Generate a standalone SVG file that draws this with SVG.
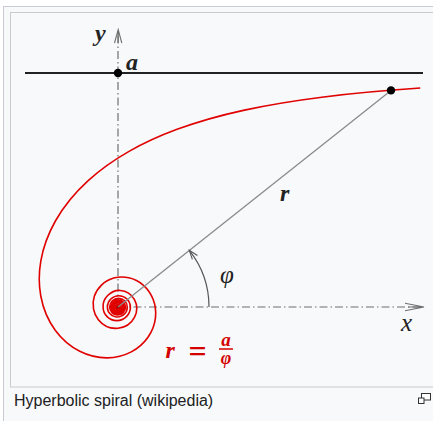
<svg xmlns="http://www.w3.org/2000/svg" width="433" height="421" viewBox="0 0 433 421">
<style>
.frame{fill:#f8f9fa;stroke:#c8ccd1;stroke-width:1}
.axis{fill:none;stroke:#6f6f6f;stroke-width:1.2;stroke-dasharray:8 3 1.5 3}
.arrow{fill:none;stroke:#6f6f6f;stroke-width:1.1;stroke-linejoin:miter}
.math{font-family:"Liberation Serif","DejaVu Serif",serif;font-style:italic;fill:#222}
.red{fill:#d40000;font-weight:bold}
.spiral{fill:none;stroke:#e00000;stroke-width:1.6}
</style>
<defs>
<marker id="arcHead" markerUnits="userSpaceOnUse" markerWidth="14" markerHeight="10" refX="9" refY="0" viewBox="-1 -5 12 10" orient="auto">
<path d="M0,-3.2 L9,0 L0,3.2" fill="none" stroke="#555" stroke-width="1.1"/>
</marker>
</defs>
<rect width="433" height="421" fill="#ffffff"/>
<g id="frame">
<rect class="frame" x="3.5" y="6.5" width="440" height="430"/>
<rect class="frame" x="10.5" y="12.5" width="430" height="374.5"/>
</g>
<g id="axes">
<line class="axis" x1="118" y1="307" x2="118" y2="31"/>
<path class="arrow" d="M114.5,43 L118.2,29.5 L121.8,43 M118.2,31 L118.2,43"/>
<line class="axis" x1="118" y1="307" x2="422" y2="307"/>
<path class="arrow" d="M405,303.3 L424,307 L405,310.7 M408,307 L424,307"/>
</g>
<g id="asymptote">
<line x1="25" y1="73" x2="423" y2="73" stroke="#222" stroke-width="2"/>
</g>
<g id="spiral">
<path class="spiral" d="M420.22,88.03 C379.80,90.74 348.58,93.80 321.79,97.17 C290.82,101.07 265.99,105.40 244.43,110.10 C217.49,115.97 195.77,122.43 177.03,129.35 C158.29,136.27 142.62,143.67 129.04,151.39 C112.74,160.66 99.48,170.41 88.46,180.40 C73.77,193.72 63.07,207.44 55.40,221.00 C47.73,234.56 43.11,247.95 40.88,260.61 C38.65,273.27 38.82,285.21 40.78,295.99 C43.24,309.47 48.50,321.13 55.39,330.45 C62.28,339.77 70.79,346.74 79.76,351.27 C88.73,355.80 98.16,357.89 107.04,357.83 C115.92,357.77 124.24,355.59 131.28,351.88 C138.32,348.17 144.06,342.96 148.15,337.02 C152.24,331.09 154.67,324.44 155.45,317.90 C157.00,304.81 151.72,292.39 143.20,285.04 C134.68,277.69 123.21,275.44 113.74,278.06 C104.27,280.68 97.00,288.00 94.31,296.29 C91.62,304.58 93.47,313.61 98.37,319.73 C103.27,325.85 111.00,328.95 118.09,328.27 C125.18,327.59 131.43,323.24 134.46,317.46 C137.49,311.68 137.27,304.69 134.33,299.44 C131.39,294.19 125.86,290.81 120.29,290.44 C110.77,289.81 102.56,298.52 103.10,307.00 A13.655,13.655 0 0 0 130.41,307 A11.527,11.527 0 0 0 107.36,307 A9.975,9.975 0 0 0 127.31,307 A8.793,8.793 0 0 0 109.72,307 A7.862,7.862 0 0 0 125.45,307 A7.110,7.110 0 0 0 111.23,307 A6.489,6.489 0 0 0 124.21,307 A5.969,5.969 0 0 0 112.27,307 A5.525,5.525 0 0 0 123.32,307 A5.143,5.143 0 0 0 113.03,307 A4.811,4.811 0 0 0 122.66,307 A4.519,4.519 0 0 0 113.62,307 A4.260,4.260 0 0 0 122.14,307 A4.029,4.029 0 0 0 114.08,307 A3.822,3.822 0 0 0 121.72,307"/>
<circle cx="118" cy="307" r="3.4" fill="#e00000"/>
<circle cx="118" cy="307" r="1.6" fill="#a00000"/>
</g>
<g id="ray">
<line x1="118" y1="307" x2="391" y2="90.4" stroke="#8a8a8a" stroke-width="1.3"/>
</g>
<g id="angle">
<path d="M209,307 A91,91 0 0 0 189.3,250.4" fill="none" stroke="#555" stroke-width="1.2" marker-end="url(#arcHead)"/>
</g>
<g id="points">
<circle cx="118" cy="73" r="4.2" fill="#000"/>
<circle cx="391" cy="90.4" r="4.2" fill="#000"/>
</g>
<g id="labels">
<text class="math" x="95" y="40.5" font-size="24" font-weight="bold">y</text>
<text class="math" x="126" y="69.5" font-size="24" font-weight="bold">a</text>
<text class="math" x="280" y="201" font-size="24" font-weight="bold">r</text>
<text class="math" x="220" y="283" font-size="25">φ</text>
<text class="math" x="401" y="331" font-size="25">x</text>
<g id="formula">
<text class="math red" x="165.5" y="358" font-size="24">r</text>
<text x="197.5" y="362" font-size="32" font-family="Liberation Serif, serif" font-weight="bold" fill="#d40000" text-anchor="middle">=</text>
<text class="math red" x="226" y="345.5" font-size="19" text-anchor="middle">a</text>
<line x1="219" y1="349" x2="233" y2="349" stroke="#d40000" stroke-width="1.5"/>
<text class="math red" x="226" y="364" font-size="18" text-anchor="middle">φ</text>
</g>
</g>
<g id="caption">
<text x="14" y="406" font-family="Liberation Sans, Arial, sans-serif" font-size="16" fill="#202122">Hyperbolic spiral (wikipedia)</text>
<rect x="421.5" y="393.5" width="9" height="6.5" fill="#fff" stroke="#333" stroke-width="1"/>
<rect x="418.5" y="398" width="5.5" height="5.5" fill="#fff" stroke="#333" stroke-width="1"/>
</g>
</svg>
